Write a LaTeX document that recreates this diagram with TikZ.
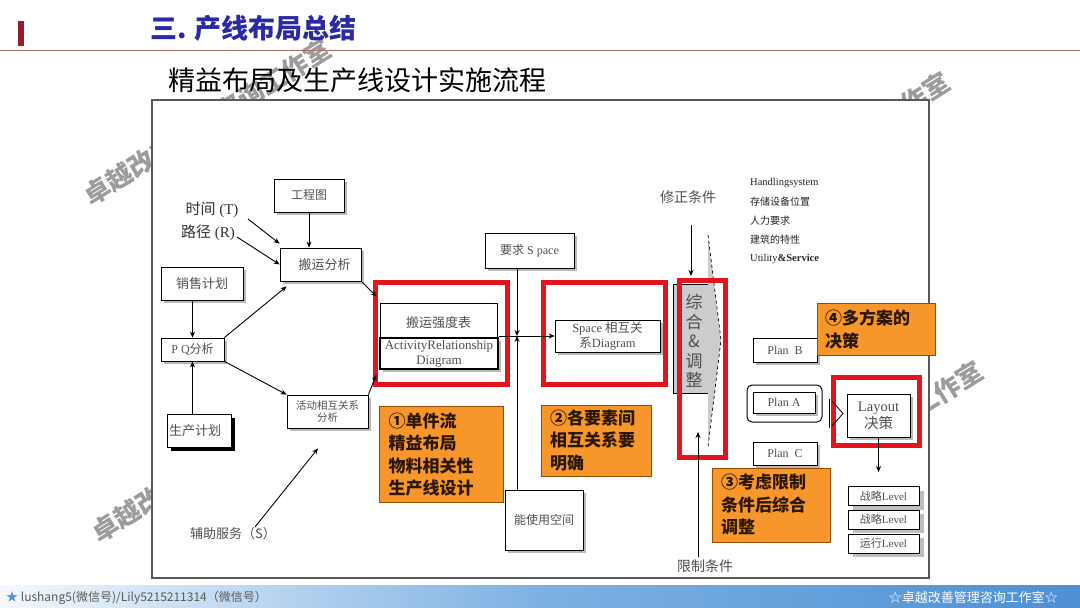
\documentclass[tikz,border=0pt]{standalone}
\usepackage{fontspec}
\setmainfont{Liberation Serif}
\newfontfamily\cjk{Noto Sans CJK SC}
\usetikzlibrary{shadows,calc,arrows.meta}
\definecolor{redbox}{HTML}{E3141C}
\definecolor{orangebox}{HTML}{F7962B}
\definecolor{titleblue}{HTML}{2A2AA6}
\definecolor{txtgray}{HTML}{505050}
\definecolor{wmgray}{HTML}{9C9C9C}
\definecolor{footL}{HTML}{F4F8FC}
\definecolor{footM}{HTML}{7DB1E3}
\definecolor{footR}{HTML}{4D90D3}
\definecolor{darkred}{HTML}{9B1B2E}
\definecolor{ruleline}{HTML}{B06A6A}
\definecolor{orgtext}{HTML}{2A1805}
\newcommand\fsz[2]{\fontsize{#1}{#2}\selectfont}
\begin{document}
\begin{tikzpicture}[x=1pt,y=-1pt,
  arr/.style={-{Stealth[length=6pt,width=5pt]}, line width=0.9pt, black},
  box/.style={draw=black, line width=0.8pt, fill=white, inner sep=1pt, text=txtgray, align=center,
    drop shadow={shadow xshift=3pt,shadow yshift=-3pt,fill=gray!55,opacity=1}},
  plainbox/.style={draw=black, line width=0.8pt, fill=white, inner sep=1pt, text=txtgray, align=center},
  lvbox/.style={draw=black, line width=0.8pt, fill=white, inner sep=1pt, text=txtgray, align=center,
    drop shadow={shadow xshift=5pt,shadow yshift=-4pt,fill=gray!50,opacity=1}},
  redframe/.style={draw=redbox, line width=5pt, inner sep=0pt},
  orgbox/.style={draw=orange!60!black, line width=0.6pt, fill=orangebox, text=orgtext, align=left,
    inner ysep=0pt, font=\cjk\bfseries\fsz{17}{22.5}},
  lbl/.style={inner sep=0pt, text=txtgray},
  wm/.style={inner sep=0pt, text=wmgray, font=\cjk\bfseries\fsz{26}{30}, anchor=west, rotate=32},
]
\fill[white] (0,0) rectangle (1080,608);
\useasboundingbox (0,0) rectangle (1080,608);

% watermarks
\node[wm] (wm1) at (86,198) {卓越改善管理咨询工作室};
\node[wm] (wm2) at (94,535) {卓越改善管理咨询工作室};
\node[wm] (wm3) at (704.5,230.7) {卓越改善管理咨询工作室};
\node[wm] (wm4) at (737.5,519.7) {卓越改善管理咨询工作室};

% header
\fill[darkred] (18,21) rectangle (24,46);
\draw[ruleline, line width=0.8pt] (0,50) -- (1080,50);
\node[anchor=west, inner sep=0pt, text=titleblue, font=\cjk\bfseries\fsz{27}{30}] (title) at (150,28) {三. 产线布局总结};
\node[anchor=west, inner sep=0pt, font=\cjk\fsz{27}{30}] (subtitle) at (168,80) {精益布局及生产线设计实施流程};

% frame
\node[draw=gray!70!black, line width=1.1pt, fill=white, minimum width=777pt, minimum height=478pt, inner sep=0pt] (frame) at (540.5,339) {};

% left part
\node[box, minimum width=70pt, minimum height=33pt, font=\cjk\fsz{12}{14}] (gct) at (309,195.5) {工程图};
\node[box, minimum width=81pt, minimum height=33pt, font=\cjk\fsz{13}{15}] (move) at (320.5,264.5) {\hspace{8pt}搬运分析};
\node[box, minimum width=82pt, minimum height=33pt, font=\cjk\fsz{13}{15}] (sale) at (202,283.5) {销售计划};
\node[box, minimum width=63pt, minimum height=23pt, font=\fsz{12}{14}] (pq) at (192.5,349.5) {P Q{\cjk 分析}};
\node[plainbox, minimum width=64pt, minimum height=33pt, font=\cjk\fsz{13}{15},
  drop shadow={shadow xshift=4pt,shadow yshift=-4pt,fill=black,opacity=1}] (prod) at (199,430.5) {生产计划\hspace{8pt}};
\node[box, minimum width=81pt, minimum height=33pt, font=\cjk\fsz{10.5}{12}] (act) at (327.5,411.5) {活动相互关系\\分析};

\node[lbl, text=black!80, font=\fsz{15}{17}] (time) at (212,210) {{\cjk 时间} (T)};
\node[lbl, text=black!80, font=\fsz{15}{17}] (path) at (208,233) {{\cjk 路径} (R)};
\node[lbl, font=\cjk\fsz{13}{15}] (aux) at (233,534) {辅助服务（S）};
\coordinate (timeS) at (248,219);
\coordinate (pathS) at (237,237);
\coordinate (auxS) at (255,527);

\draw[arr] (timeS) -- ($(move.north west)+(0,-4)$);
\draw[arr] (pathS) -- (move.west);
\draw[arr] (auxS) -- ($(act.south)+(-9.5,20)$);
\draw[arr] (gct.south) -- (gct.south |- move.north);
\draw[arr] (pq.north |- sale.south) -- (pq.north);
\draw[arr] (pq.south |- prod.north) -- (pq.south);
\draw[arr] (pq.north east) -- ($(move.south west)+(7,5)$);
\draw[arr] (pq.south east) -- (act.north west);

% red box 1
\node[redframe, minimum width=132pt, minimum height=102pt] (r1) at (441.5,333.5) {};
\node[plainbox, minimum width=117pt, minimum height=39pt, font=\cjk\fsz{13}{15}] (ht) at (438.5,322.5) {搬运强度表};
\node[box, line width=1.3pt, minimum width=118pt, minimum height=31pt, font=\fsz{13}{15}] (ard) at (439,353.5) {ActivityRelationship\\Diagram};
\draw[arr] (move.south east) -- ($(ht.north west)+(-3,-6)$);
\draw[arr] (act.north east) -- ($(ard.south west)+(-3,5)$);

% space
\node[box, minimum width=89pt, minimum height=35pt, font=\fsz{12}{14}] (req) at (529.5,250.5) {{\cjk 要求} S pace};
\node[box, minimum width=78pt, minimum height=60pt, font=\cjk\fsz{12}{14}] (use) at (544,520) {能使用空间};
\coordinate (cross) at (517,336);
\node[redframe, minimum width=122pt, minimum height=102pt] (r2) at (604.5,333.5) {};
\node[box, minimum width=105pt, minimum height=32pt, font=\fsz{12.5}{15}] (sp) at (607.5,336) {Space {\cjk 相互关}\\{\cjk 系}Diagram};
\draw[arr] (req.south -| cross) -- (cross);
\draw[arr] (use.north -| cross) -- (cross);
\draw[arr] (cross -| ard.east) -- (cross -| sp.west);

% integrate & adjust
\fill[gray!40] (673,284) -- (708,284) -- (708,235) -- (721,340) -- (708,447) -- (708,393) -- (673,393) -- cycle;
\draw[line width=0.7pt] (708,284) -- (673,284) -- (673,393) -- (708,393);
\draw[line width=0.7pt, dashed] (708,235) -- (721,340) -- (708,447);
\node[redframe, minimum width=46pt, minimum height=177pt] (r3) at (702.5,369) {};
\node[lbl, align=center, font=\cjk\fsz{17}{19.5}] (zh) at (694,341) {综\\合\\\&\\调\\整};
\node[lbl, font=\cjk\fsz{14}{16}] (fix) at (688,197) {修正条件};
\node[lbl, font=\cjk\fsz{14}{16}] (lim) at (705,566) {限制条件};
\coordinate (fixS) at (691,225);
\coordinate (limS) at (698,557);
\coordinate (limE) at (698,432);
\draw[arr] (fixS) -- ($(fixS |- r3.north)+(0,-2)$);
\draw[arr] (limS) -- (limE);

% factor list
\node[lbl, anchor=west, text=black!85, font=\fsz{10.5}{12}] (l1) at (750,183) {Handlingsystem};
\node[lbl, anchor=west, text=black!85, font=\cjk\fsz{10}{12}] (l2) at (750,202) {存储设备位置};
\node[lbl, anchor=west, text=black!85, font=\cjk\fsz{10}{12}] (l3) at (750,221) {人力要求};
\node[lbl, anchor=west, text=black!85, font=\cjk\fsz{10}{12}] (l4) at (750,240) {建筑的特性};
\node[lbl, anchor=west, text=black!85, font=\fsz{10.5}{12}] (l5) at (750,259) {Utility\textbf{\&Service}};

% plans
\node[box, minimum width=64pt, minimum height=24pt, font=\fsz{12}{14}] (pB) at (785,350) {Plan\ \ B};
\node[draw=black, line width=1pt, rounded corners=5pt, minimum width=75pt, minimum height=37pt, inner sep=0pt] (pAo) at (784.5,403.5) {};
\node[box, minimum width=62pt, minimum height=21pt, font=\fsz{12}{14}] (pA) at (784,402.5) {Plan A};
\node[box, minimum width=64pt, minimum height=23pt, font=\fsz{12}{14}] (pC) at (785,453.5) {Plan\ \ C};

% decision
\node[orgbox, minimum width=118pt, minimum height=52pt, text width=102pt, inner xsep=8pt] (o4) at (876,329.5) {④多方案的\\决策};
\node[redframe, minimum width=86pt, minimum height=68pt] (r4) at (876.5,411.5) {};
\node[box, minimum width=63pt, minimum height=43pt, font=\fsz{14.5}{17}] (lay) at (878.5,415.5) {Layout\\{\cjk 决策}};
\draw[line width=0.8pt] (829,399) -- (829,428);
\draw[line width=0.8pt] (832,401) -- (843,413.5) -- (832,426);

% levels
\node[lvbox, minimum width=71pt, minimum height=19pt, font=\fsz{11}{13}] (lv1) at (883.5,496) {{\cjk 战略}Level};
\node[lvbox, minimum width=71pt, minimum height=19pt, font=\fsz{11}{13}] (lv2) at (883.5,519.5) {{\cjk 战略}Level};
\node[lvbox, minimum width=71pt, minimum height=19pt, font=\fsz{11}{13}] (lv3) at (883.5,543.5) {{\cjk 运行}Level};
\draw[arr] (lay.south) -- ($(lay.south |- lv1.north)+(0,-14)$);

% orange notes
\node[orgbox, minimum width=124pt, minimum height=96pt, text width=106pt, inner xsep=9pt] (o1) at (441.5,454.5) {①单件流\\精益布局\\物料相关性\\生产线设计};
\node[orgbox, minimum width=110pt, minimum height=71pt, text width=92pt, inner xsep=9pt] (o2) at (596,440.5) {②各要素间\\相互关系要\\明确};
\node[orgbox, minimum width=118pt, minimum height=74pt, text width=100pt, inner xsep=9pt] (o3) at (771,505) {③考虑限制\\条件后综合\\调整};

% footer
\shade[left color=footL, right color=footR, middle color=footM] (0,585) rectangle (1080,608);
\node[anchor=west, inner sep=0pt, text=gray!70!black, font=\cjk\fsz{12}{14}] (fl) at (6,598) {{\color{footR}★} lushang5(微信号)/Lily5215211314（微信号）};
\node[anchor=east, inner sep=0pt, text=white, font=\cjk\fsz{13}{15}] (fr) at (1058,598) {☆卓越改善管理咨询工作室☆};
\end{tikzpicture}
\end{document}
